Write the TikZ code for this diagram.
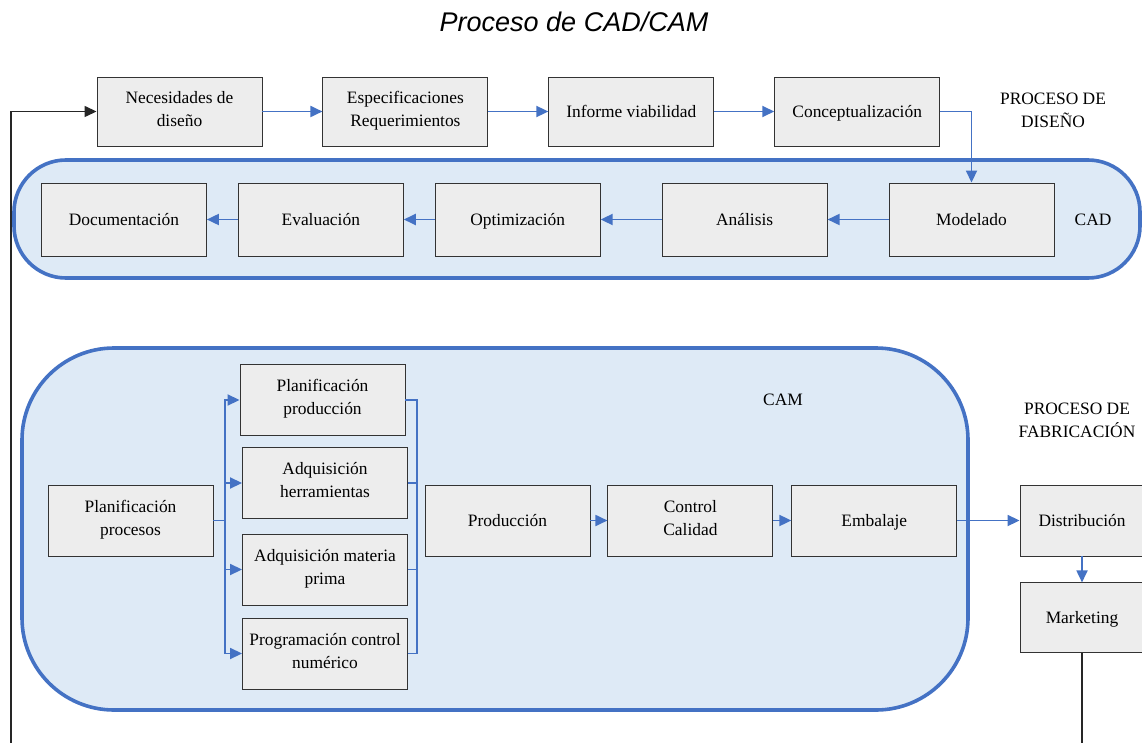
\documentclass[tikz,border=0pt]{standalone}
\usepackage{fontspec}
\setmainfont{Liberation Serif}
\newfontfamily\titlefont{Liberation Sans}
\usetikzlibrary{arrows.meta,positioning}
\definecolor{azul}{HTML}{4472C4}
\definecolor{celeste}{HTML}{DEEAF6}
\definecolor{gris}{HTML}{EDEDED}
\newcommand\puntal{\rule[-6pt]{0pt}{24pt}}

\begin{document}
\begin{tikzpicture}[
			x=1pt, y=-1pt,
			caja/.style={rectangle, draw=black!80, line width=0.9pt, fill=gris, minimum width=165pt, minimum height=71pt, align=center, inner sep=2pt, font=\fontsize{17.4}{23}\selectfont, execute at begin node=\puntal, execute at end node=\puntal},
			zona/.style={draw=azul, line width=3.6pt, fill=celeste},
			flecha/.style={draw=azul, line width=1.8pt, -{Triangle[length=12pt,width=11pt]}},
			linea/.style={draw=azul, line width=1.8pt},
			retro/.style={draw=black!85, line width=1.4pt},
			etiqueta/.style={align=center, font=\fontsize{17.4}{23}\selectfont}
		]
		\useasboundingbox (0,0) rectangle (1142,743);

		\node[font=\titlefont\itshape\fontsize{27}{30}\selectfont] (titulo) at (574,22) {Proceso de CAD/CAM};

		% zonas CAD y CAM
		\draw[zona, rounded corners=52pt] (14,160) rectangle (1140,278);
		\draw[zona, rounded corners=92pt] (22,348) rectangle (968,710);

		\node[caja, minimum height=69pt] (necesidades) at (179.5,111.5) {Necesidades de\\diseño};
		\node[caja, minimum height=69pt, right=60pt of necesidades] (especif) {Especificaciones\\Requerimientos};
		\node[caja, minimum height=69pt, right=60pt of especif] (informe) {Informe viabilidad};
		\node[caja, minimum height=69pt, right=60pt of informe] (concepto) {Conceptualización};

		\node[caja, minimum height=73pt] (modelado) at (971.5,219.5) {Modelado};
		\node[caja, minimum height=73pt, left=61pt of modelado] (analisis) {Análisis};
		\node[caja, minimum height=73pt, left=61pt of analisis] (optimiz) {Optimización};
		\node[caja, minimum height=73pt, left=31pt of optimiz] (evaluacion) {Evaluación};
		\node[caja, minimum height=73pt, left=31pt of evaluacion] (documento) {Documentación};

		\node[caja] (planproc) at (130.5,520.5) {Planificación\\procesos};
		\node[caja] (planprod) at (322.5,400) {Planificación\\producción};
		\node[caja] (adqherr) at (325,483) {Adquisición\\herramientas};
		\node[caja] (adqmat) at (325,569.5) {Adquisición materia\\prima};
		\node[caja] (progcn) at (325,653.5) {Programación control\\numérico};
		\node[caja] (produccion) at (507.5,520.5) {Producción};
		\node[caja, right=17pt of produccion] (control) {Control\\Calidad};
		\node[caja, right=18pt of control] (embalaje) {Embalaje};

		\node[caja, minimum width=124pt] (distribucion) at (1082,520.5) {Distribución};
		\node[caja, minimum width=124pt, minimum height=70pt, below=26pt of distribucion] (marketing) {Marketing};

		\node[etiqueta] (disenio) at (1053,110) {PROCESO DE\\DISEÑO};
		\node[etiqueta] (cad) at (1093,220) {CAD};
		\node[etiqueta] (cam) at (783,400) {CAM};
		\node[etiqueta] (fabric) at (1077,420) {PROCESO DE\\FABRICACIÓN};

		\draw[flecha] (necesidades) -- (especif);
		\draw[flecha] (especif) -- (informe);
		\draw[flecha] (informe) -- (concepto);
		\draw[flecha] (concepto.east) -| (modelado.north);
		\draw[flecha] (modelado) -- (analisis);
		\draw[flecha] (analisis) -- (optimiz);
		\draw[flecha] (optimiz) -- (evaluacion);
		\draw[flecha] (evaluacion) -- (documento);

		\coordinate (ramal) at (225,520.5);
		\coordinate (union) at (417,520.5);
		\draw[linea] (planproc.east) -- (ramal);
		\foreach \n in {planprod,adqherr,adqmat,progcn} {
			\draw[flecha] (ramal) |- (\n.west);
			\draw[linea] (\n.east) -| (union);
		}
		\draw[flecha] (produccion) -- (control);
		\draw[flecha] (control) -- (embalaje);
		\draw[flecha] (embalaje) -- (distribucion);
		\draw[flecha] (distribucion) -- (marketing);

		% retorno
		\coordinate (fin) at (1082,743);
		\coordinate (retorno) at (11,743);
		\draw[retro] (marketing.south) -- (fin);
		\draw[retro, -{Triangle[length=12pt,width=11pt]}] (retorno) |- (necesidades.west);
	\end{tikzpicture}
\end{document}
